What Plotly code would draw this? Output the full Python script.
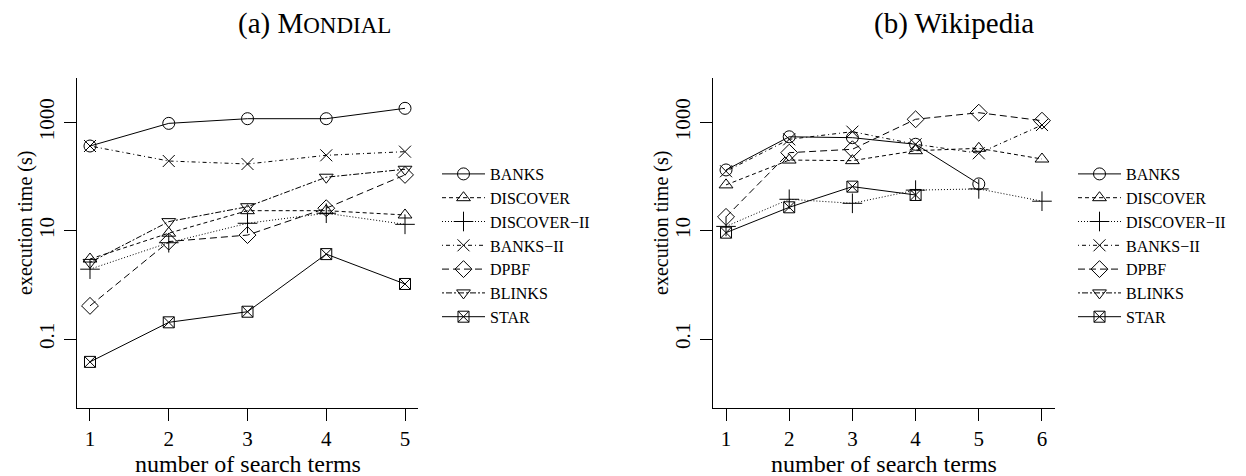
import plotly.graph_objects as go

# ---------------- data ----------------
series_names = ["BANKS", "DISCOVER", "DISCOVER\u2212II", "BANKS\u2212II", "DPBF", "BLINKS", "STAR"]

mondial_terms = [1, 2, 3, 4, 5]
mondial_banks = [365, 955, 1165, 1165, 1810]
mondial_discover = [3.0, 9.0, 23.4, 23.4, 19.5]
mondial_discover2 = [1.95, 6.0, 13.7, 21, 13.1]
mondial_banks2 = [365, 193, 170, 246, 287]
mondial_dpbf = [0.41, 6.3, 8.3, 26, 107]
mondial_blinks = [2.6, 14.7, 27.7, 97, 136]
mondial_star = [0.038, 0.204, 0.32, 3.7, 1.04]

wiki_terms = [1, 2, 3, 4, 5, 6]
wiki_banks = [132, 540, 520, 393, 73, None]
wiki_discover = [70, 201, 196, 299, 331, 210]
wiki_discover2 = [12, 38, 32, 56, 59, 35]
wiki_banks2 = [125, 485, 671, 393, 268, 890]
wiki_dpbf = [18, 275, 318, 1136, 1503, 1070]
wiki_blinks = [None, None, None, None, None, None]
wiki_star = [9.2, 27, 65, 45.6, None, None]

y_tickvals = [0.1, 10, 1000]
y_ticktext = ["0.1", "10", "1000"]

# ---------------- styles ----------------
FONT = "Liberation Serif"
symbols = ["circle-open", "triangle-up-open", "cross-thin-open", "x-thin-open",
           "diamond-open", "triangle-down-open", "square-x-open"]
sizes = [12, 12, 14, 12, 13, 12, 11]
dashes = ["solid", "4px,3px", "1px,2px", "1px,3px,4px,3px", "7px,4px",
          "2px,2px,6px,2px", "solid"]

mondial = [mondial_banks, mondial_discover, mondial_discover2, mondial_banks2,
           mondial_dpbf, mondial_blinks, mondial_star]
wiki = [wiki_banks, wiki_discover, wiki_discover2, wiki_banks2,
        wiki_dpbf, wiki_blinks, wiki_star]

fig = go.Figure()
for i, name in enumerate(series_names):
    fig.add_trace(go.Scatter(
        x=mondial_terms, y=mondial[i], name=name, mode="lines+markers",
        xaxis="x", yaxis="y", legend="legend",
        line=dict(color="black", width=1, dash=dashes[i]),
        marker=dict(symbol=symbols[i], size=sizes[i], color="black",
                    line=dict(color="black", width=1)),
        connectgaps=False,
    ))
for i, name in enumerate(series_names):
    fig.add_trace(go.Scatter(
        x=wiki_terms, y=wiki[i], name=name, mode="lines+markers",
        xaxis="x2", yaxis="y2", legend="legend2",
        line=dict(color="black", width=1, dash=dashes[i]),
        marker=dict(symbol=symbols[i], size=sizes[i], color="black",
                    line=dict(color="black", width=1)),
        connectgaps=False,
    ))

W, H = 1246, 476
def px(x):
    return x / W
def py(y):
    return 1 - y / H

y_top, y_bot = 78, 408
ylog_range = [-2.271, 3.817]

xcommon = dict(showline=True, linecolor="black", linewidth=1, ticks="outside",
               ticklen=12, tickcolor="black", tickwidth=1, showgrid=False,
               zeroline=False, mirror=False,
               tickfont=dict(family=FONT, size=21, color="black"),
               ticklabelstandoff=0)
ycommon = dict(type="log", range=ylog_range, showline=True, linecolor="black",
               linewidth=1, ticks="outside", ticklen=12, tickcolor="black",
               tickwidth=1, showgrid=False, zeroline=False, mirror=False,
               tickvals=y_tickvals, ticktext=y_ticktext, tickangle=-90,
               tickfont=dict(family=FONT, size=21, color="black"),
               ticklabelstandoff=2,
               domain=[py(y_bot), py(y_top)])

legend_common = dict(font=dict(family=FONT, size=16, color="black"),
                     bgcolor="rgba(0,0,0,0)", borderwidth=0, tracegroupgap=0,
                     xanchor="left", yanchor="top", itemwidth=43)

def ann(text, x, y, size, angle=0):
    return dict(text=text, x=px(x), y=py(y), xref="paper", yref="paper",
                showarrow=False, xanchor="center", yanchor="middle",
                textangle=angle, font=dict(family=FONT, size=size, color="black"))

fig.update_layout(
    width=W, height=H, autosize=False,
    margin=dict(l=0, r=0, t=0, b=0),
    paper_bgcolor="white", plot_bgcolor="white",
    showlegend=True,
    xaxis=dict(**xcommon, domain=[px(77), px(418)], range=[0.835, 5.165],
               tickvals=mondial_terms, anchor="y"),
    yaxis=dict(**ycommon, anchor="x"),
    xaxis2=dict(**xcommon, domain=[px(713), px(1055)], range=[0.794, 6.206],
                tickvals=wiki_terms, anchor="y2"),
    yaxis2=dict(**ycommon, anchor="x2"),
    legend=dict(**legend_common, x=px(437), y=py(157)),
    legend2=dict(**legend_common, x=px(1073), y=py(157)),
    annotations=[
        ann("(a) M<span style='font-size:23px'>ONDIAL</span>", 314, 23, 29),
        ann("(b) Wikipedia", 954, 23, 29),
        ann("number of search terms", 248, 464, 24),
        ann("number of search terms", 884, 464, 24),
        ann("execution time (s)", 25, 223, 20, -90),
        ann("execution time (s)", 661, 223, 20, -90),
    ],
)

fig.write_html("out.html", config={"displayModeBar": False},
               post_script="document.body.style.margin='0px';")
